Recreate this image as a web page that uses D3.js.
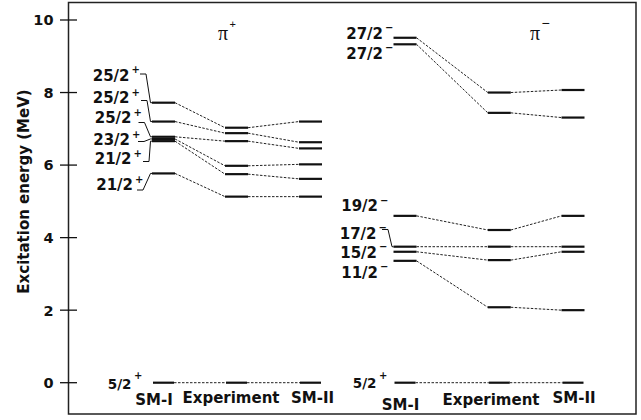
<meta charset="utf-8">
<script src="https://d3js.org/d3.v7.min.js"></script>
<style>
  body { margin: 0; background: #fff; }
  text { font-family: "DejaVu Sans", sans-serif; font-weight: bold; fill: #111; }
</style>
<div id="levels"></div>
<script>

// level scheme data (MeV)
var models = ["SM-I", "Experiment", "SM-II"];

var posSpins = ["25/2", "25/2", "25/2", "23/2", "21/2", "21/2"];
var posSM1 = [7.72, 7.20, 6.78, 6.72, 6.66, 5.77];
var posExp = [7.03, 6.88, 6.66, 5.98, 5.75, 5.13];
var posSM2 = [7.20, 6.63, 6.46, 6.02, 5.62, 5.13];

var negSpins = ["27/2", "27/2", "19/2", "17/2", "15/2", "11/2"];
var negSM1 = [9.51, 9.33, 4.60, 3.75, 3.61, 3.36];
var negExp = [8.00, 7.44, 4.21, 3.75, 3.38, 2.08];
var negSM2 = [8.07, 7.31, 4.60, 3.75, 3.61, 2.00];

var groundSpin = "5/2";
var groundE = [0, 0, 0];

var yTicks = [0, 2, 4, 6, 8, 10];

// page layout
var W = 641, H = 420;
var svg = d3.select("#levels")
  .append("svg")
    .attr("width", W)
    .attr("height", H);

var y = d3.scaleLinear()
  .domain([0, 10])
  .range([382.7, 20]);

var barHalf = 11.5;

// label placement for each panel (pixels), kept apart from the data
var panels = [
  {
    parity: "+",
    spins: posSpins,
    values: [posSM1, posExp, posSM2],
    x: d3.scaleOrdinal().domain(models).range([163.5, 236.5, 310.5]),
    labels: [
      {lx: 129.5, ly: 80.5, hx: 140, hy: 74},
      {lx: 129.5, ly: 103, hx: 141, hy: 100.5},
      {lx: 131.5, ly: 123, hx: 138.5, hy: 122.5},
      {lx: 130, ly: 145, hx: 138, hy: 141.5},
      {lx: 131.5, ly: 164, hx: 143, hy: 161.5},
      {lx: 133, ly: 190, hx: 137, hy: 190}
    ],
    ground: {lx: 131.5, ly: 388.7},
    names: [{x: 154, y: 405.3}, {x: 231, y: 403}, {x: 312.5, y: 403}],
    pi: {x: 218, y: 40}
  },
  {
    parity: "-",
    spins: negSpins,
    values: [negSM1, negExp, negSM2],
    x: d3.scaleOrdinal().domain(models).range([405, 499.3, 573]),
    labels: [
      {lx: 383, ly: 38.5},
      {lx: 383, ly: 58.5},
      {lx: 378, ly: 211},
      {lx: 376.5, ly: 238.5, hx: 382, hy: 229.5},
      {lx: 377, ly: 257.5},
      {lx: 378, ly: 277.5}
    ],
    ground: {lx: 376.5, ly: 388},
    names: [{x: 400.5, y: 409.7}, {x: 491, y: 404.7}, {x: 574, y: 403}],
    pi: {x: 530, y: 40}
  }
];

// frame
svg.append("rect")
  .attr("x", 68.5).attr("y", 2.5)
  .attr("width", 567.5).attr("height", 411.5)
  .attr("fill", "none")
  .attr("stroke", "#222")
  .attr("stroke-width", 1.5);

// y axis ticks crossing the frame
var yAxis = svg.append("g");
yAxis.selectAll("line")
  .data(yTicks)
  .enter().append("line")
    .attr("x1", 60).attr("x2", 77)
    .attr("y1", function(d) { return y(d); })
    .attr("y2", function(d) { return y(d); })
    .attr("stroke", "#111")
    .attr("stroke-width", 1.3);
yAxis.selectAll("text")
  .data(yTicks)
  .enter().append("text")
    .attr("x", 53.5)
    .attr("y", function(d) { return y(d); })
    .attr("dy", "0.37em")
    .attr("text-anchor", "end")
    .style("font-size", "14.5px")
    .text(function(d) { return d; });

// y axis title
svg.append("text")
  .attr("transform", "translate(28.5,191.5) rotate(-90)")
  .attr("text-anchor", "middle")
  .style("font-size", "15px")
  .text("Excitation energy (MeV)");

function sup(g, x, yb, ch) {
  g.append("text")
    .attr("x", x)
    .attr("y", yb - 7.5)
    .style("font-size", "10px")
    .text(ch === "-" ? "\u2212" : ch);
}

panels.forEach(function(p) {
  var g = svg.append("g");
  var x = p.x;

  // states: excited ones plus the ground state
  var states = p.spins.map(function(s, i) {
    return { spin: s, e: p.values.map(function(v) { return v[i]; }) };
  });
  states.push({ spin: groundSpin, e: groundE, ground: true });

  states.forEach(function(st) {
    var hw = st.ground ? 10.5 : barHalf;
    // bars
    g.selectAll(null)
      .data(models)
      .enter().append("line")
        .attr("x1", function(m) { return x(m) - hw; })
        .attr("x2", function(m) { return x(m) + hw; })
        .attr("y1", function(m, j) { return y(st.e[j]); })
        .attr("y2", function(m, j) { return y(st.e[j]); })
        .attr("stroke", "#111")
        .attr("stroke-width", 2.2);
    // dashed links between neighbouring columns
    g.selectAll(null)
      .data(models.slice(0, 2))
      .enter().append("line")
        .attr("x1", function(m) { return x(m) + hw; })
        .attr("x2", function(m, j) { return x(models[j + 1]) - hw; })
        .attr("y1", function(m, j) { return y(st.e[j]); })
        .attr("y2", function(m, j) { return y(st.e[j + 1]); })
        .attr("stroke", "#222")
        .attr("stroke-width", 1)
        .attr("stroke-dasharray", "2.5,1.5");
  });

  // spin labels with leader lines to the SM-I level
  p.labels.forEach(function(L, i) {
    g.append("text")
      .attr("x", L.lx).attr("y", L.ly)
      .attr("text-anchor", "end")
      .style("font-size", "15px")
      .text(p.spins[i]);
    sup(g, L.lx + 2, L.ly, p.parity);
    if (L.hx !== undefined) {
      var bx = x(models[0]) - barHalf, by = y(p.values[0][i]);
      g.append("polyline")
        .attr("points", [[L.hx, L.hy], [L.hx + 6, L.hy], [bx - 1.5, by], [bx, by]].join(" "))
        .attr("fill", "none")
        .attr("stroke", "#111")
        .attr("stroke-width", 1);
    }
  });

  // ground state label
  g.append("text")
    .attr("x", p.ground.lx).attr("y", p.ground.ly)
    .attr("text-anchor", "end")
    .style("font-size", "13.5px")
    .text(groundSpin);
  g.append("text")
    .attr("x", p.ground.lx + 2.5).attr("y", p.ground.ly - 9.5)
    .style("font-size", "10px")
    .text("+");

  // column names
  g.selectAll(null)
    .data(models)
    .enter().append("text")
      .attr("x", function(m, j) { return p.names[j].x; })
      .attr("y", function(m, j) { return p.names[j].y; })
      .attr("text-anchor", "middle")
      .style("font-size", "15px")
      .text(function(m) { return m; });

  // parity symbol
  g.append("text")
    .attr("x", p.pi.x).attr("y", p.pi.y)
    .style("font-family", "'Liberation Serif', serif")
    .style("font-weight", "normal")
    .style("font-size", "20px")
    .text("\u03c0");
  g.append("text")
    .attr("x", p.pi.x + 11.5).attr("y", p.pi.y - 12)
    .style("font-family", "'Liberation Sans', sans-serif")
    .style("font-weight", "normal")
    .style("font-size", p.parity === "+" ? "11px" : "14px")
    .text(p.parity === "+" ? "+" : "\u2212");
});

</script>
